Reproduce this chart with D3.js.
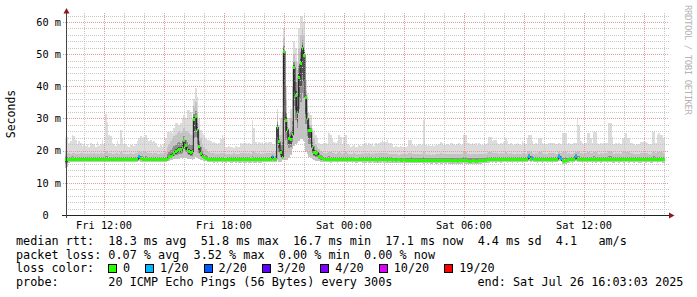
<!DOCTYPE html>
<html>
<head>
<meta charset="utf-8">
<script src="https://cdn.jsdelivr.net/npm/d3@7"></script>
<style>
body { margin: 0; background: #fff; }
text { font-family: "DejaVu Sans Mono", monospace; }
</style>
</head>
<body>
<svg id="chart" width="697" height="297"></svg>
<script>
// 5 minute steps, 30 hours, one row = one hour
const median = [
17.4,17.4,17.3,17.3,17.4,17.3,17.2,17.3,17.3,17.4,17.3,17.3,
17.3,17.2,17.3,17.3,17.2,17.3,17.4,17.3,17.2,17.2,17.3,17.3,
17.3,17.3,17.2,17.3,17.3,17.2,17.3,17.3,17.4,17.3,17.3,17.2,
17.2,17.3,17.3,17.2,17.2,17.3,17.3,17.2,18.1,17.5,17.4,17.3,
17.3,17.2,17.3,17.3,17.2,17.3,17.3,17.4,17.3,17.2,17.3,17.3,
17.3,17.4,17.8,18.2,18.5,19.2,19.6,20.1,20.4,20.5,21.0,23.1,
21.5,20.4,19.8,19.4,19.6,29.7,30.5,26.5,21.2,19.2,18.3,17.8,
17.6,17.4,17.3,17.2,17.2,17.1,17.2,17.1,17.2,17.2,17.1,17.2,
17.1,17.2,17.2,17.1,17.1,17.2,17.1,17.2,17.1,17.1,17.2,17.1,
17.1,17.2,17.1,17.1,17.2,17.1,17.1,17.2,17.1,17.1,17.2,17.2,
17.2,17.1,17.2,17.2,18.1,17.2,17.4,27.3,22.8,19.5,18.0,50.9,
29.5,26.5,23.8,23.5,24.9,45.9,37.0,31.8,42.7,47.0,51.8,49.7,
36.6,30.0,26.4,26.2,21.0,19.5,19.0,19.4,18.2,17.9,17.5,17.3,
17.3,17.2,17.3,17.1,17.2,17.3,17.2,17.1,17.2,17.3,17.2,17.2,
17.2,17.1,17.2,17.2,17.1,17.2,17.1,17.1,17.2,17.2,17.1,17.1,
17.1,17.2,17.1,17.1,17.2,17.1,17.1,17.0,17.1,17.1,17.2,17.1,
17.1,17.0,17.1,17.1,17.0,17.1,17.0,17.1,17.1,17.0,17.0,17.1,
17.0,17.0,16.9,17.0,16.9,17.0,16.9,16.9,17.0,16.9,16.9,16.8,
16.9,16.8,16.9,16.8,16.8,16.9,16.8,16.8,16.9,16.8,16.8,16.9,
16.8,16.9,16.8,16.8,16.7,16.8,16.8,16.7,16.8,16.8,16.8,16.9,
16.8,16.8,16.7,16.7,16.8,16.8,16.7,16.7,16.8,16.8,16.9,17.0,
17.0,17.1,17.1,17.2,17.1,17.2,17.1,17.2,17.2,17.1,17.2,17.2,
17.2,17.1,17.2,17.2,17.1,17.2,17.2,17.1,17.2,17.2,17.1,17.2,
17.2,17.3,18.3,17.4,17.6,17.2,17.2,17.1,17.2,17.2,17.1,17.2,
17.2,17.1,17.2,17.2,17.1,17.2,17.2,17.3,18.3,17.7,16.8,16.7,
16.8,16.9,17.1,17.2,17.1,17.2,18.3,17.4,17.2,17.2,17.1,17.2,
17.2,17.1,17.2,17.2,17.1,17.2,17.1,17.2,17.2,17.1,17.2,17.2,
17.2,17.1,17.2,17.2,17.1,17.1,17.2,17.2,17.1,17.2,17.2,17.1,
17.2,17.2,17.1,17.2,17.2,17.1,17.2,17.2,17.1,17.1,17.2,17.2,
17.1,17.2,17.2,17.1,17.1,17.2,17.2,17.1,17.2,17.2,17.1,17.1
];

// slowest ping of each step
const high = [
24.0,24.2,22.5,23.0,25.0,24.6,23.3,22.0,23.0,22.4,21.5,22.0,
21.5,22.0,21.0,22.4,21.8,22.2,21.0,22.6,21.4,22.0,23.3,22.0,
31.4,29.0,25.0,24.5,22.5,22.0,21.5,23.0,22.0,26.4,24.0,22.0,
22.0,21.5,21.0,21.8,22.0,21.4,22.0,23.0,24.0,24.5,23.5,24.2,
25.0,24.0,23.0,23.2,22.6,23.0,22.5,21.5,21.0,21.8,21.2,22.0,
24.0,25.9,25.9,26.0,25.5,27.0,28.5,28.5,28.0,28.5,30.0,31.0,
30.0,32.6,32.6,32.0,30.0,36.0,39.4,36.8,30.0,26.4,25.4,25.0,
24.0,23.3,23.3,23.0,22.4,22.6,22.4,22.0,22.4,23.5,24.9,23.9,
21.2,21.0,21.4,21.0,21.2,20.8,21.5,21.0,21.2,22.4,22.0,22.4,
22.4,22.0,22.4,22.0,29.5,27.0,22.8,22.0,22.8,22.5,22.8,22.0,
22.8,22.4,22.7,22.7,22.0,22.0,24.0,33.0,28.0,30.0,31.7,58.0,
40.0,30.0,30.0,33.0,40.0,54.0,52.0,48.0,58.0,62.0,62.0,60.0,
42.0,38.0,31.7,31.0,27.0,26.4,25.0,24.0,22.5,22.0,22.0,22.4,
22.4,22.2,25.4,25.0,24.0,22.8,22.4,23.0,24.9,24.4,22.0,24.3,
24.9,22.0,21.8,21.2,21.5,21.8,21.2,21.0,21.8,21.4,21.8,22.0,
22.3,21.8,22.3,22.0,22.3,21.6,22.4,22.0,22.3,22.8,23.3,22.8,
22.8,23.3,22.4,22.4,22.0,21.2,21.5,21.2,21.0,21.4,21.2,21.0,
21.2,21.5,23.3,23.3,22.0,21.8,21.5,21.8,22.0,21.8,22.0,29.5,
21.8,21.6,21.8,21.5,21.8,21.6,21.8,21.8,22.0,22.8,22.4,21.8,
21.8,22.0,21.8,22.4,22.4,22.0,21.8,22.0,22.3,21.8,22.0,24.9,
24.9,22.3,22.3,22.0,22.3,22.0,22.3,21.8,22.3,21.8,22.0,21.8,
22.0,22.4,24.3,24.3,23.0,23.3,23.3,22.4,22.0,22.4,22.0,22.8,
24.0,23.0,22.0,22.4,22.0,21.8,22.0,22.4,22.0,21.8,23.0,22.5,
22.0,24.0,25.0,25.0,23.0,22.0,22.4,22.0,24.0,24.0,22.5,22.0,
22.0,22.0,22.4,22.3,22.3,22.3,22.0,22.0,22.5,22.0,25.4,25.4,
25.4,22.0,22.4,22.0,22.0,22.4,22.5,30.0,28.0,23.0,22.4,22.0,
22.4,25.4,25.4,24.0,22.4,25.9,25.9,22.4,22.0,22.4,22.0,22.4,
22.4,22.4,28.6,28.6,24.3,22.0,22.4,22.0,22.4,22.0,24.0,24.0,
25.4,24.0,24.0,22.3,22.3,22.0,21.8,22.0,22.0,22.8,22.8,22.8,
22.8,22.4,22.0,22.0,25.9,25.9,22.4,24.9,25.4,24.9,24.9,24.0
];

// upper edge of the dense smoke
const upper = [
19.5,19.3,19.2,19.0,19.4,19.3,19.1,19.2,19.0,19.3,19.2,19.1,
19.0,19.2,19.1,19.3,19.0,19.2,19.1,19.4,19.0,19.2,19.3,19.1,
20.0,19.6,19.4,19.3,19.1,19.0,19.2,19.3,19.1,19.5,19.3,19.1,
19.0,19.1,19.0,19.2,19.1,19.0,19.2,19.3,19.8,19.6,19.4,19.5,
19.6,19.4,19.3,19.2,19.1,19.3,19.2,19.0,19.1,19.2,19.0,19.2,
19.5,21.0,22.0,23.0,24.0,24.5,25.0,25.5,26.0,25.5,26.0,27.0,
26.0,26.0,25.5,25.0,25.0,34.0,35.0,32.0,26.0,24.0,22.0,21.0,
20.5,20.0,19.5,19.4,19.2,19.3,19.1,19.2,19.0,19.3,19.4,19.2,
19.0,19.1,19.0,19.1,19.0,19.2,19.1,19.0,19.1,19.3,19.2,19.2,
19.2,19.1,19.2,19.0,19.8,19.5,19.2,19.1,19.2,19.1,19.3,19.1,
19.3,19.2,19.2,19.3,19.5,19.3,20.0,31.0,25.0,25.0,30.0,55.0,
36.0,29.0,27.0,30.0,36.0,50.0,48.0,45.0,52.0,56.0,58.0,56.0,
38.5,34.0,30.0,28.0,25.5,24.0,22.0,21.0,20.5,20.0,19.6,19.4,
19.3,19.2,19.6,19.5,19.4,19.2,19.1,19.3,19.5,19.4,19.1,19.4,
19.5,19.2,19.1,19.0,19.1,19.2,19.0,19.0,19.1,19.0,19.2,19.1,
19.2,19.0,19.2,19.1,19.2,19.0,19.2,19.1,19.2,19.3,19.4,19.2,
19.2,19.4,19.1,19.1,19.0,18.9,19.0,18.9,18.8,19.0,18.9,18.9,
18.9,19.0,19.3,19.2,19.0,18.9,18.9,19.0,19.0,18.9,19.0,19.6,
18.9,18.8,18.9,18.8,18.9,18.8,18.9,18.9,19.0,19.2,19.0,18.9,
18.9,19.0,18.9,19.1,19.1,19.0,18.9,19.0,19.1,18.9,19.0,19.5,
19.5,19.1,19.1,19.0,19.1,19.0,19.1,18.9,19.1,18.9,19.0,19.0,
19.1,19.2,19.5,19.5,19.3,19.4,19.4,19.2,19.1,19.2,19.1,19.3,
19.5,19.3,19.1,19.2,19.1,19.0,19.1,19.2,19.1,19.0,19.3,19.2,
19.1,19.5,19.8,19.6,19.4,19.1,19.2,19.1,19.5,19.5,19.2,19.1,
19.1,19.1,19.2,19.2,19.2,19.2,19.1,19.1,19.6,19.3,19.6,19.5,
19.6,19.1,19.2,19.1,19.1,19.2,19.6,20.0,19.8,19.3,19.2,19.1,
19.2,19.6,19.6,19.4,19.2,19.7,19.7,19.2,19.1,19.2,19.1,19.2,
19.2,19.2,20.0,20.0,19.5,19.1,19.2,19.1,19.2,19.1,19.5,19.5,
19.6,19.5,19.5,19.2,19.2,19.1,19.0,19.1,19.1,19.3,19.3,19.3,
19.3,19.2,19.1,19.1,19.7,19.7,19.2,19.5,19.6,19.5,19.5,19.4
];

// fastest ping of each step
const low = [
14.6,14.8,16.2,16.4,16.5,16.5,16.4,16.5,16.6,16.5,16.5,16.4,
16.5,16.4,16.5,16.6,16.4,16.5,16.6,16.5,16.4,16.4,16.5,16.5,
16.5,16.5,16.4,16.5,16.5,16.4,16.5,16.5,16.6,16.5,16.5,16.4,
16.4,16.5,16.5,16.4,16.4,16.5,16.5,16.4,16.7,16.6,16.5,16.5,
16.5,16.4,16.5,16.5,16.4,16.5,16.5,16.6,16.5,16.4,16.5,16.5,
16.6,16.7,16.8,17.0,17.2,17.4,17.5,17.4,17.5,17.6,17.4,17.8,
17.6,17.5,17.4,17.3,17.2,17.4,18.0,17.8,17.5,17.2,17.0,16.8,
16.7,16.6,16.5,16.4,16.4,16.3,16.4,16.3,16.4,16.4,16.3,16.4,
16.3,16.4,16.4,16.3,16.3,16.4,16.3,16.4,16.3,16.3,16.4,16.3,
16.3,16.4,16.3,16.3,16.4,16.3,16.3,16.4,16.3,16.3,16.4,16.4,
16.6,16.5,16.6,16.5,16.6,16.5,16.5,17.0,16.6,16.6,17.2,17.2,
17.0,17.2,17.8,18.5,20.5,21.5,22.0,22.5,23.0,23.5,24.0,23.0,
19.7,19.0,18.0,17.8,17.3,17.0,16.9,16.8,16.7,16.6,16.6,16.5,
16.5,16.4,16.5,16.3,16.4,16.5,16.4,16.3,16.4,16.5,16.4,16.4,
16.4,16.3,16.4,16.4,16.3,16.4,16.3,16.3,16.4,16.4,16.3,16.3,
16.3,16.4,16.3,16.3,16.4,16.3,16.3,16.2,16.3,16.3,16.4,16.3,
16.3,16.2,16.3,16.3,16.2,16.3,16.2,16.3,16.3,16.2,16.2,16.3,
16.2,16.2,16.1,16.2,16.1,16.2,16.1,16.1,16.2,16.1,16.1,16.0,
16.1,16.0,16.1,16.0,16.0,16.1,16.0,16.0,16.1,16.0,16.0,16.1,
16.0,16.1,16.0,16.0,15.9,16.0,16.0,15.9,16.0,16.0,16.0,16.1,
16.0,16.0,15.9,15.9,16.0,16.0,15.9,15.9,16.0,16.0,16.1,16.2,
16.2,16.3,16.3,16.4,16.3,16.4,16.3,16.4,16.4,16.3,16.4,16.4,
16.4,16.3,16.4,16.4,16.3,16.4,16.4,16.3,16.4,16.4,16.3,16.4,
16.4,16.5,16.8,16.6,16.7,16.4,16.4,16.3,16.4,16.4,16.3,16.4,
16.4,16.3,16.4,16.4,16.3,16.4,16.4,16.5,16.8,16.7,16.0,15.9,
16.0,16.1,16.3,16.4,16.3,16.4,16.8,16.6,16.4,16.4,16.3,16.4,
16.4,16.3,16.4,16.4,16.3,16.4,16.3,16.4,16.4,16.3,16.4,16.4,
16.4,16.3,16.4,16.4,16.3,16.3,16.4,16.4,16.3,16.4,16.4,16.3,
16.4,16.4,16.3,16.4,16.4,16.3,16.4,16.4,16.3,16.3,16.4,16.4,
16.3,16.4,16.4,16.3,16.3,16.4,16.4,16.3,16.4,16.4,16.3,16.3
];

// steps with lost pings (step index, pings lost of 20)
const lossStep = [44, 124, 278, 280, 296, 297, 306];
const lossPings = [1, 1, 1, 1, 1, 1, 1];

const lossLabels = ["0", "1/20", "2/20", "3/20", "4/20", "10/20", "19/20"];
const lossLevels = [0, 1, 2, 3, 4, 10, 19];
const lossColors = ["#26ff00", "#00b8ff", "#0059ff", "#5e00ff", "#7e00ff", "#dd00ff", "#ff0000"];

const yTickValues = [0, 10, 20, 30, 40, 50, 60];

const legendLines = [
    "median rtt:  18.3 ms avg  51.8 ms max  16.7 ms min  17.1 ms now  4.4 ms sd  4.1   am/s",
    "packet loss: 0.07 % avg  3.52 % max  0.00 % min  0.00 % now",
    "loss color:",
    "probe:       20 ICMP Echo Pings (56 Bytes) every 300s"
];
const endText = "end: Sat Jul 26 16:03:03 2025";

const tEnd = new Date(2025, 6, 26, 16, 3, 3);
const tStart = new Date(tEnd.getTime() - 30 * 3600 * 1000);
const stepMs = 5 * 60 * 1000;

const svg = d3.select("#chart");
svg.append("rect").attr("width", 697).attr("height", 297).attr("fill", "#fff");

let x = d3.scaleTime().domain([tStart, tEnd]).range([65, 665]);
let y = d3.scaleLinear().domain([0, 62.17]).range([215, 15]);

let lossMap = new Map(lossStep.map((s, k) => [s, lossPings[k]]));
let pts = median.map((m, i) => ({
    t: new Date(tStart.getTime() + i * stepMs),
    med: m, lo: low[i], up: upper[i], hi: high[i],
    loss: lossMap.get(i) || 0
}));
// closing point so the last step gets its width
let stepPts = pts.concat([Object.assign({}, pts[pts.length - 1], {t: tEnd})]);

function lossColor(p) {
    let c = lossColors[0];
    lossLevels.forEach((l, k) => { if (p >= l) c = lossColors[k]; });
    return c;
}

// smoke
let plot = svg.append("g").attr("shape-rendering", "crispEdges");
function band(f0, f1, color) {
    let area = d3.area()
        .x(d => x(d.t))
        .y0(d => y(f0(d)))
        .y1(d => y(f1(d)))
        .curve(d3.curveStepAfter);
    plot.append("path").datum(stepPts).attr("d", area).attr("fill", color);
}
band(d => d.lo, d => d.hi, "#dcdcdc");
band(d => d.lo, d => d.up, "#c3c3c3");
band(d => d.lo + (d.med - d.lo) * 0.5, d => d.med + (d.up - d.med) * 0.4, "#8e8e8e");
band(d => d.med - (d.med - d.lo) * 0.3, d => d.med + (d.up - d.med) * 0.15, "#505050");

// grid
let grid = svg.append("g").attr("shape-rendering", "crispEdges");
let hourTicks = x.ticks(d3.timeHour.every(1));
let majorTimes = x.ticks(d3.timeHour.every(3)).map(d => +d);
hourTicks.forEach(d => {
    let major = majorTimes.includes(+d);
    let px = Math.round(x(d)) + 0.5;
    grid.append("line")
        .attr("x1", px).attr("x2", px)
        .attr("y1", 13).attr("y2", major ? 218 : 215)
        .attr("stroke", major ? "#e89a9a" : "#c8c8c8")
        .attr("stroke-dasharray", "1,1");
});
for (let v = 2; v <= 62; v += 2) {
    let major = v % 10 === 0;
    let py = Math.round(y(v)) + 0.5;
    grid.append("line")
        .attr("x1", major ? 63 : 66).attr("x2", 669)
        .attr("y1", py).attr("y2", py)
        .attr("stroke", major ? "#e89a9a" : "#c8c8c8")
        .attr("stroke-dasharray", "1,1");
}

// median line + loss coloured marks
let medLine = d3.line().x(d => x(d.t)).y(d => y(d.med)).curve(d3.curveStepAfter);
svg.append("path").datum(stepPts).attr("d", medLine)
    .attr("fill", "none").attr("stroke", "#202020").attr("stroke-width", 1);

svg.append("g").attr("shape-rendering", "crispEdges")
    .selectAll("rect").data(pts).join("rect")
    .attr("x", d => x(d.t))
    .attr("width", d => x(new Date(d.t.getTime() + stepMs)) - x(d.t))
    .attr("y", d => y(d.med) - 1.5)
    .attr("height", 3)
    .attr("fill", d => lossColor(d.loss));

// axes
let axes = svg.append("g").attr("shape-rendering", "crispEdges");
axes.append("line").attr("x1", 62).attr("x2", 670).attr("y1", 215.5).attr("y2", 215.5).attr("stroke", "#222");
axes.append("line").attr("x1", 66.5).attr("x2", 66.5).attr("y1", 218).attr("y2", 12).attr("stroke", "#444");
svg.append("path").attr("d", "M63.5,13.5 L66.5,8 L69.5,13.5 Z").attr("fill", "#8b1a1a");
svg.append("path").attr("d", "M669,212.5 L674.5,215.5 L669,218.5 Z").attr("fill", "#8b1a1a");

let fmt = d3.timeFormat("%a %H:%M");
svg.append("g").selectAll("text").data(x.ticks(d3.timeHour.every(6))).join("text")
    .attr("x", d => x(d))
    .attr("y", 228.5)
    .attr("text-anchor", "middle")
    .attr("font-size", "10.3px")
    .attr("fill", "#000")
    .text(d => fmt(d));

svg.append("g").selectAll("text").data(yTickValues).join("text")
    .attr("x", 61)
    .attr("y", d => y(d) + 3.7)
    .attr("text-anchor", "end")
    .attr("font-size", "10.3px")
    .attr("fill", "#000")
    .style("white-space", "pre")
    .attr("xml:space", "preserve")
    .text(d => d === 0 ? "0  " : d + " m");

svg.append("text")
    .attr("transform", "translate(15,114) rotate(-90)")
    .attr("text-anchor", "middle")
    .attr("font-size", "11.5px")
    .attr("fill", "#000")
    .text("Seconds");

svg.append("text")
    .attr("transform", "translate(685,5) rotate(90)")
    .attr("font-size", "9px")
    .attr("fill", "#b4b4b4")
    .attr("textLength", 110)
    .text("RRDTOOL / TOBI OETIKER");

// legend
let lineY = [245, 258.7, 272.4, 286];
let charW = 7.1;
legendLines.forEach((s, i) => {
    svg.append("text")
        .attr("x", 16).attr("y", lineY[i])
        .attr("font-size", "11.8px")
        .attr("fill", "#000")
        .style("white-space", "pre")
        .attr("xml:space", "preserve")
        .text(s);
});
svg.append("text")
    .attr("x", 16 + 65 * charW).attr("y", lineY[3])
    .attr("font-size", "11.8px")
    .attr("fill", "#000")
    .text(endText);

let bx = 108;
lossLabels.forEach((lab, k) => {
    svg.append("rect")
        .attr("x", bx + 0.5).attr("y", 264.5)
        .attr("width", 8).attr("height", 8)
        .attr("fill", lossColors[k])
        .attr("stroke", "#000")
        .attr("shape-rendering", "crispEdges");
    svg.append("text")
        .attr("x", bx + 15).attr("y", lineY[2])
        .attr("font-size", "11.8px")
        .attr("fill", "#000")
        .text(lab);
    bx += 15 + lab.length * charW + 15;
});
</script>
</body>
</html>
